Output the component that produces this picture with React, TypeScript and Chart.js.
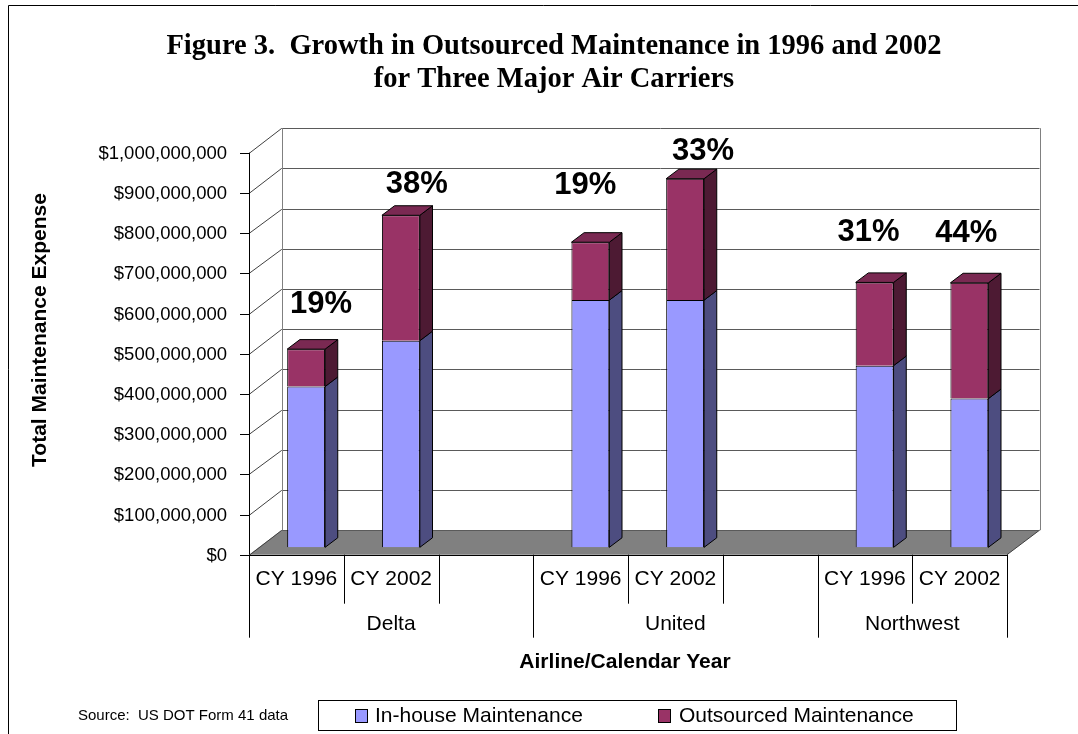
import React, { useEffect, useRef } from "react";
import { Chart, registerables } from "chart.js";

Chart.register(...registerables);

// ---------- data ----------
const categories = ["CY 1996", "CY 2002", "", "CY 1996", "CY 2002", "", "CY 1996", "CY 2002"];
const airlines = ["Delta", "United", "Northwest"];
const airlineSpans = [3, 3, 2];
const inHouse = [400e6, 514e6, null, 615e6, 615e6, null, 452e6, 370e6];
const outsourced = [93e6, 312e6, null, 144e6, 302e6, null, 207e6, 288e6];
const outsourcedShare = ["19%", "38%", "", "19%", "33%", "", "31%", "44%"];
const seriesNames = ["In-house Maintenance", "Outsourced Maintenance"];
const titleLines = ["Figure 3.  Growth in Outsourced Maintenance in 1996 and 2002", "for Three Major Air Carriers"];
const yTitle = "Total Maintenance Expense";
const xTitle = "Airline/Calendar Year";
const sourceNote = "Source:  US DOT Form 41 data";

// ---------- styling / layout ----------
const W = 1078;
const H = 734;
const SANS = '"Liberation Sans", Arial, sans-serif';
const SERIF = '"Liberation Serif", "Times New Roman", serif';
const DX = 32.5; // 3D depth offset of the walls
const DY = 24.5;
const FRONT = 0.3; // bar front face depth fraction
const BAR_DEPTH = 0.39; // bar depth fraction
const frontColors = ["#9999FF", "#993366"];
const sideColors = ["#4D4D80", "#4D1A33"];
const topColors = ["#7B7BCC", "#7A2952"];
// small nudges for the percentage labels [dx, lift above bar top] in px
const shareNudge = [[15, 35], [16, 21], [0, 0], [-5, 47], [18, 18], [0, 0], [-6, 40], [-3, 40]];

function text(ctx: CanvasRenderingContext2D, s: string, x: number, y: number, font: string, align: CanvasTextAlign = "center") {
  ctx.font = font;
  ctx.textAlign = align;
  ctx.textBaseline = "middle";
  ctx.fillStyle = "#000";
  ctx.fillText(s, x, y);
}

function line(ctx: CanvasRenderingContext2D, x1: number, y1: number, x2: number, y2: number, color: string) {
  ctx.strokeStyle = color;
  ctx.lineWidth = 1;
  ctx.beginPath();
  ctx.moveTo(x1, y1);
  ctx.lineTo(x2, y2);
  ctx.stroke();
}

const fmt = new Intl.NumberFormat("en-US");

const excel3d = {
  id: "excel3d",
  beforeDatasetsDraw(chart: any) {
    const { ctx, chartArea: a } = chart;
    const y = chart.scales.y;
    ctx.save();
    // floor
    ctx.fillStyle = "#808080";
    ctx.beginPath();
    ctx.moveTo(a.left, a.bottom);
    ctx.lineTo(a.right, a.bottom);
    ctx.lineTo(a.right + DX, a.bottom - DY);
    ctx.lineTo(a.left + DX, a.bottom - DY);
    ctx.closePath();
    ctx.fill();
    line(ctx, a.right, a.bottom, a.right + DX, a.bottom - DY, "#404040");
    // gridlines on back wall + left wall diagonals
    for (const t of y.ticks) {
      const fy = Math.round(y.getPixelForValue(t.value)) + 0.5;
      const by = Math.round(y.getPixelForValue(t.value) - DY) + 0.5;
      line(ctx, a.left + DX, by, a.right + DX, by, "#5a5a5a");
      line(ctx, a.left, fy, a.left + DX, by, "#404040");
    }
    // back wall edges
    const bl = Math.round(a.left + DX) + 0.5;
    const br = Math.round(a.right + DX) + 0.5;
    line(ctx, bl, a.top - DY, bl, a.bottom - DY, "#808080");
    line(ctx, br, a.top - DY, br, a.bottom - DY, "#808080");
    ctx.restore();
    // shift bars to their depth position
    ctx.save();
    ctx.translate(FRONT * DX, -FRONT * DY);
  },
  afterDatasetsDraw(chart: any) {
    const { ctx, chartArea: a } = chart;
    const bdx = BAR_DEPTH * DX;
    const bdy = BAR_DEPTH * DY;
    const nSets = chart.data.datasets.length;
    for (let d = 0; d < nSets; d++) {
      const meta = chart.getDatasetMeta(d);
      meta.data.forEach((el: any, i: number) => {
        const v = chart.data.datasets[d].data[i];
        if (v == null) return;
        const { x, y, base, width } = el.getProps(["x", "y", "base", "width"], true);
        const left = x - width / 2;
        const right = x + width / 2;
        ctx.lineWidth = 1;
        ctx.strokeStyle = "#000";
        // side face
        ctx.fillStyle = sideColors[d];
        ctx.beginPath();
        ctx.moveTo(right, y);
        ctx.lineTo(right + bdx, y - bdy);
        ctx.lineTo(right + bdx, base - bdy);
        ctx.lineTo(right, base);
        ctx.closePath();
        ctx.fill();
        ctx.stroke();
        if (d === nSets - 1) {
          ctx.fillStyle = topColors[d];
          ctx.beginPath();
          ctx.moveTo(left, y);
          ctx.lineTo(left + bdx, y - bdy);
          ctx.lineTo(right + bdx, y - bdy);
          ctx.lineTo(right, y);
          ctx.closePath();
          ctx.fill();
          ctx.stroke();
        }
      });
    }
    // percentage labels
    const topMeta = chart.getDatasetMeta(nSets - 1);
    topMeta.data.forEach((el: any, i: number) => {
      if (!outsourcedShare[i]) return;
      const { x, y } = el.getProps(["x", "y"], true);
      const [nx, lift] = shareNudge[i];
      text(ctx, outsourcedShare[i], x + nx, y - bdy - lift, `bold 31px ${SANS}`);
    });
    ctx.restore();

    const yS = chart.scales.y;
    const xS = chart.scales.x;
    // front value axis
    const ax = Math.round(a.left) + 0.5;
    line(ctx, ax, a.top, ax, a.bottom, "#000");
    for (const t of yS.ticks) {
      const py = Math.round(yS.getPixelForValue(t.value)) + 0.5;
      line(ctx, a.left - 9, py, a.left, py, "#000");
      text(ctx, "$" + fmt.format(t.value), a.left - 22, py, `18.5px ${SANS}`, "right");
    }
    // floor front edge (category axis)
    const fb = Math.round(a.bottom) + 0.5;
    line(ctx, a.left, fb, a.right, fb, "#000");
    // category labels and separators
    const slot = xS.getPixelForValue(1) - xS.getPixelForValue(0);
    const groupEdges = new Set<number>([0]);
    let acc = 0;
    airlineSpans.forEach((s) => {
      acc += s;
      groupEdges.add(acc);
    });
    for (let k = 0; k <= categories.length; k++) {
      const sx = Math.round(a.left + k * slot) + 0.5;
      const long = groupEdges.has(k);
      line(ctx, sx, a.bottom, sx, long ? a.bottom + 83 : a.bottom + 49, "#000");
    }
    categories.forEach((c, i) => {
      if (c) text(ctx, c, xS.getPixelForValue(i), a.bottom + 25, `21px ${SANS}`);
    });
    acc = 0;
    airlines.forEach((g, gi) => {
      const start = a.left + acc * slot;
      acc += airlineSpans[gi];
      const end = a.left + acc * slot;
      text(ctx, g, (start + end) / 2, a.bottom + 70, `21px ${SANS}`);
    });
    // axis titles
    text(ctx, xTitle, 625, 662, `bold 21px ${SANS}`);
    ctx.save();
    ctx.translate(40, 330);
    ctx.rotate(-Math.PI / 2);
    text(ctx, yTitle, 0, 0, `bold 21px ${SANS}`);
    ctx.restore();
    // chart title
    text(ctx, titleLines[0], 554, 47, `bold 28.5px ${SERIF}`);
    text(ctx, titleLines[1], 554, 80, `bold 28.5px ${SERIF}`);
    // source
    text(ctx, sourceNote, 78, 716, `15px ${SANS}`, "left");
    // legend
    ctx.strokeStyle = "#000";
    ctx.lineWidth = 1;
    ctx.strokeRect(318.5, 700.5, 638, 30);
    const items = [
      { sq: 355, tx: 375 },
      { sq: 658, tx: 679 },
    ];
    items.forEach((it, i) => {
      ctx.fillStyle = frontColors[i];
      ctx.fillRect(it.sq + 0.5, 709.5, 12, 13);
      ctx.strokeStyle = "#000";
      ctx.strokeRect(it.sq + 0.5, 709.5, 12, 13);
      text(ctx, seriesNames[i], it.tx, 716, `21px ${SANS}`, "left");
    });
    // outer chart border (cropped at right/bottom)
    line(ctx, 8.5, 5.5, W, 5.5, "#000");
    line(ctx, 8.5, 5.5, 8.5, H, "#000");
  },
};

export default function App() {
  const ref = useRef<HTMLCanvasElement | null>(null);
  useEffect(() => {
    if (!ref.current) return;
    const chart = new Chart(ref.current, {
      type: "bar",
      data: {
        labels: categories,
        datasets: [
          {
            label: seriesNames[0],
            data: inHouse,
            backgroundColor: frontColors[0],
            borderColor: "#000",
            borderWidth: 1,
          },
          {
            label: seriesNames[1],
            data: outsourced,
            backgroundColor: frontColors[1],
            borderColor: "#000",
            borderWidth: 1,
          },
        ],
      },
      options: {
        responsive: false,
        animation: false,
        devicePixelRatio: 1,
        layout: { padding: { left: 249, right: W - 1007, top: 152.7, bottom: H - 554.7 } },
        datasets: { bar: { categoryPercentage: 1, barPercentage: 0.4, clip: false } as any },
        plugins: { legend: { display: false }, title: { display: false }, tooltip: { enabled: false } },
        scales: {
          x: { stacked: true, display: false, offset: true },
          y: { stacked: true, display: false, min: 0, max: 1e9, ticks: { stepSize: 1e8 } },
        },
      },
      plugins: [excel3d],
    });
    return () => chart.destroy();
  }, []);
  return (
    <div style={{ position: "fixed", left: 0, top: 0, width: W, height: H, background: "#fff" }}>
      <canvas ref={ref} width={W} height={H} style={{ display: "block" }} />
    </div>
  );
}
